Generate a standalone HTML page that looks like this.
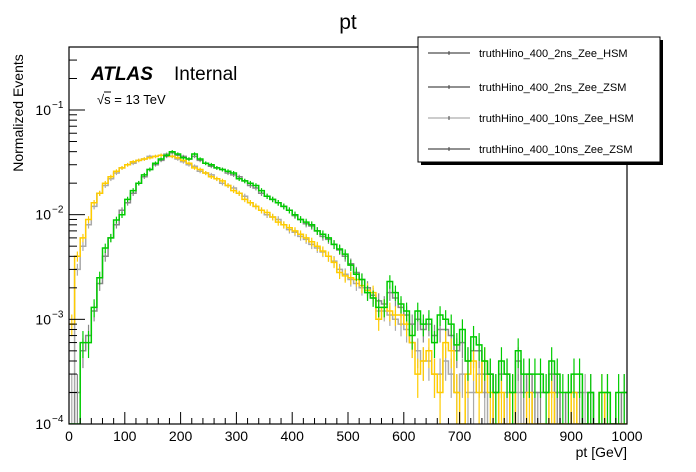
<!DOCTYPE html>
<html><head><meta charset="utf-8"><style>
body{margin:0;background:#fff;overflow:hidden;}
svg{display:block;font-family:"Liberation Sans",sans-serif;}
</style></head><body>
<svg id="c" width="696" height="472" viewBox="0 0 696 472">
<defs><clipPath id="plotclip"><rect x="69" y="47" width="558" height="377"/></clipPath></defs>
<rect x="0" y="0" width="696" height="472" fill="#fff"/>
<text x="348" y="29" font-size="21" text-anchor="middle">pt</text>
<g id="series" clip-path="url(#plotclip)"></g>
<g id="axes"></g>
<text x="91" y="80" font-size="19" font-weight="bold" font-style="italic">ATLAS</text>
<text x="174" y="80" font-size="19">Internal</text>
<text x="97" y="104" font-size="13">√s = 13 TeV</text>
<line x1="104" y1="92" x2="111" y2="92" stroke="#000" stroke-width="1"/>
<text transform="translate(23,113) rotate(-90)" font-size="14" text-anchor="middle">Normalized Events</text>
<text x="627" y="457" font-size="14" text-anchor="end">pt [GeV]</text>
<g>
<rect x="421" y="40" width="242" height="125" fill="#000"/>
<rect x="418" y="37" width="242" height="125" fill="#fff" stroke="#000" stroke-width="1"/>
<g id="legend-entries"></g>
</g>
</svg>
<script>
const binEdges0 = 0, binWidth = 10;
const seriesNames = ["truthHino_400_2ns_Zee_HSM","truthHino_400_2ns_Zee_ZSM","truthHino_400_10ns_Zee_HSM","truthHino_400_10ns_Zee_ZSM"];
const yellowVals = [0.0009,0.004,0.006,0.009,0.013,0.016,0.02,0.023,0.026,0.028,0.03,0.032,0.033,0.034,0.035,0.036,0.037,0.037,0.036,0.035,
0.033,0.031,0.028,0.027,0.025,0.023,0.022,0.021,0.019,0.017,0.016,0.014,0.013,0.012,0.011,0.0105,0.0095,0.0085,0.008,0.0075,
0.007,0.0065,0.006,0.0055,0.005,0.0045,0.004,0.0035,0.0028,0.0026,0.0025,0.0024,0.0021,0.0019,0.0018,0.001,0.0013,0.0012,0.0011,0.0011,
0.0009,0.0006,0.0003,0.0004,0.0005,0.0003,0.0002,0.0006,0.0005,0.0002,0,0.0003,0.0004,0.0002,0.0004,0.0002,0,0.0002,0,0.0002,
0,0,0.0002,0,0,0,0.0002,0,0,0,0.0002,0,0,0,0,0.0002,0,0,0,0];
const greenVals = [0,0,0.0006,0.0006,0.0013,0.0025,0.0048,0.006,0.0089,0.010,0.014,0.017,0.020,0.024,0.027,0.031,0.034,0.037,0.040,0.038,
0.035,0.034,0.038,0.034,0.031,0.030,0.028,0.027,0.026,0.025,0.022,0.021,0.020,0.019,0.017,0.015,0.014,0.013,0.012,0.011,
0.010,0.009,0.0085,0.008,0.007,0.0065,0.006,0.0052,0.0047,0.0042,0.0033,0.0027,0.0024,0.0018,0.0016,0.0013,0.0013,0.0023,0.0018,0.0014,
0.0012,0.0007,0.0012,0.0009,0.001,0.0006,0.0011,0.001,0.0009,0.00057,0.0008,0.0004,0.00068,0.00057,0.0004,0.0003,0.0002,0.0004,0.0003,0.0002,
0.0005,0.0003,0.0003,0.0003,0.0003,0.0002,0.0004,0.0003,0.0002,0.0002,0.0003,0.0003,0,0.0002,0,0.0002,0.0002,0,0.0002,0.0002];
const grayAVals = [0.0002,0.003,0.005,0.008,0.012,0.016,0.019,0.022,0.025,0.028,0.030,0.031,0.033,0.034,0.036,0.036,0.037,0.038,0.036,0.034,
0.032,0.030,0.029,0.026,0.025,0.024,0.022,0.020,0.019,0.018,0.016,0.015,0.013,0.012,0.011,0.010,0.0095,0.009,0.008,0.0072,
0.0068,0.0062,0.0058,0.0052,0.0048,0.0044,0.004,0.0036,0.003,0.0027,0.0024,0.0022,0.002,0.0018,0.0016,0.0012,0.0012,0.0011,0.001,0.0009,
0.0008,0.0006,0.0005,0.0004,0.0004,0.0003,0.0003,0.0004,0.0003,0.0002,0.0003,0.0002,0.0002,0.0003,0.0002,0,0.0002,0,0.0002,0,
0.0002,0,0,0.0002,0,0,0,0.0002,0,0,0,0,0.0002,0,0,0,0,0,0,0];
const grayBVals = [0,0.0002,0.0005,0.0007,0.0012,0.0022,0.004,0.006,0.008,0.011,0.013,0.016,0.020,0.023,0.027,0.030,0.033,0.036,0.039,0.037,
0.036,0.034,0.036,0.033,0.031,0.029,0.028,0.027,0.025,0.024,0.023,0.021,0.019,0.018,0.016,0.015,0.014,0.013,0.012,0.011,
0.0098,0.009,0.0082,0.0078,0.007,0.0062,0.0058,0.0052,0.0046,0.004,0.0034,0.0028,0.0024,0.002,0.0017,0.0015,0.0014,0.0018,0.0016,0.0013,
0.0011,0.0009,0.001,0.0008,0.0009,0.0007,0.0008,0.0008,0.0007,0.0005,0.0006,0.0004,0.0005,0.0005,0.0003,0.0003,0.0002,0.0003,0.0003,0.0002,
0.0004,0.0002,0.0003,0.0002,0.0002,0.0002,0.0003,0.0002,0,0.0002,0.0002,0.0002,0,0.0002,0,0,0.0002,0,0,0.0002];
const xTicks = [0,100,200,300,400,500,600,700,800,900,1000];
const yDecades = [-4,-3,-2,-1];

const X0=69,X1=627,Y0=424,Y1=47,XMAX=1000,LOGMIN=-4,LOGMAX=-0.398;
const NS="http://www.w3.org/2000/svg";
function xs(v){return X0+(v/XMAX)*(X1-X0);}
function ys(v){if(v<=0)return Y0;const l=Math.log10(v);return Math.min(Y0,Y0-(l-LOGMIN)/(LOGMAX-LOGMIN)*(Y0-Y1));}
function mk(t,a,p){const e=document.createElementNS(NS,t);for(const k in a)e.setAttribute(k,a[k]);p.appendChild(e);return e;}
const sg=document.getElementById('series');
function drawSeries(vals,color,name){
  const g=mk('g',{},sg);
  
  
  let d='';
  vals.forEach((v,i)=>{
    const xa=xs(i*binWidth),xb=xs((i+1)*binWidth),y=Math.max(Y1,ys(v));
    d+=(i===0?'M':'L')+xa.toFixed(1)+','+y.toFixed(1)+'L'+xb.toFixed(1)+','+y.toFixed(1);
    if(v>0){
      const err=Math.sqrt(v*0.00005);
      const xc=(xa+xb)/2;
      const eb=mk('line',{x1:xc,x2:xc,y1:Math.max(Y1,ys(v+err)),y2:ys(Math.max(v-err,1e-6)),stroke:color,'stroke-width':1.2},g);
      
      
    }
  });
  const p=mk('path',{d:d,fill:'none',stroke:color,'stroke-width':1.5},g);
  
  
}
drawSeries(grayAVals,'#aaaaaa','series-2ns-zee-hsm');
drawSeries(grayBVals,'#888888','series-10ns-zee-zsm');
drawSeries(yellowVals,'#ffcc00','series-2ns-zee-zsm');
drawSeries(greenVals,'#00cc00','series-10ns-zee-hsm');

const ax=document.getElementById('axes');
const fr=mk('rect',{x:X0,y:Y1,width:X1-X0,height:Y0-Y1,fill:'none',stroke:'#000','stroke-width':1.2},ax);


for(let v=0;v<=XMAX;v+=20){
  const major=v%100===0,mid=v%50===0;
  mk('line',{x1:xs(v),x2:xs(v),y1:Y0,y2:Y0-(major?12:(mid?8:6)),stroke:'#000','stroke-width':1},ax);
}
xTicks.forEach(t=>{
  const tx=mk('text',{x:xs(t),y:441,'font-size':14,'text-anchor':'middle'},ax);
  tx.textContent=t;
  
  
});
yDecades.forEach(dcd=>{
  for(let m=1;m<=9;m++){
    const v=m*Math.pow(10,dcd);const y=ys(v);
    if(y<Y1)continue;
    mk('line',{x1:X0,x2:X0+(m===1?16:8),y1:y,y2:y,stroke:'#000','stroke-width':1},ax);
  }
  const y=ys(Math.pow(10,dcd));
  const tx=mk('text',{x:51,y:y+5,'font-size':14,'text-anchor':'end'},ax);
  tx.textContent='10';
  
  
  const sp=mk('text',{x:52,y:y-2,'font-size':10},ax);
  sp.textContent='−'+(-dcd);
  
  
});
const lg=document.getElementById('legend-entries');
const legY=[53,87,118,149];
seriesNames.forEach((n,i)=>{
  const g=mk('g',{},lg);
  
  
  mk('line',{x1:428,x2:470,y1:legY[i],y2:legY[i],stroke:i===2?'#999':'#222','stroke-width':1},g);
  mk('line',{x1:449,x2:449,y1:legY[i]-2,y2:legY[i]+2,stroke:'#444','stroke-width':1},g);
  const t=mk('text',{x:479,y:legY[i]+4,'font-size':11},g);
  t.textContent=n;
});
</script>
</body></html>
